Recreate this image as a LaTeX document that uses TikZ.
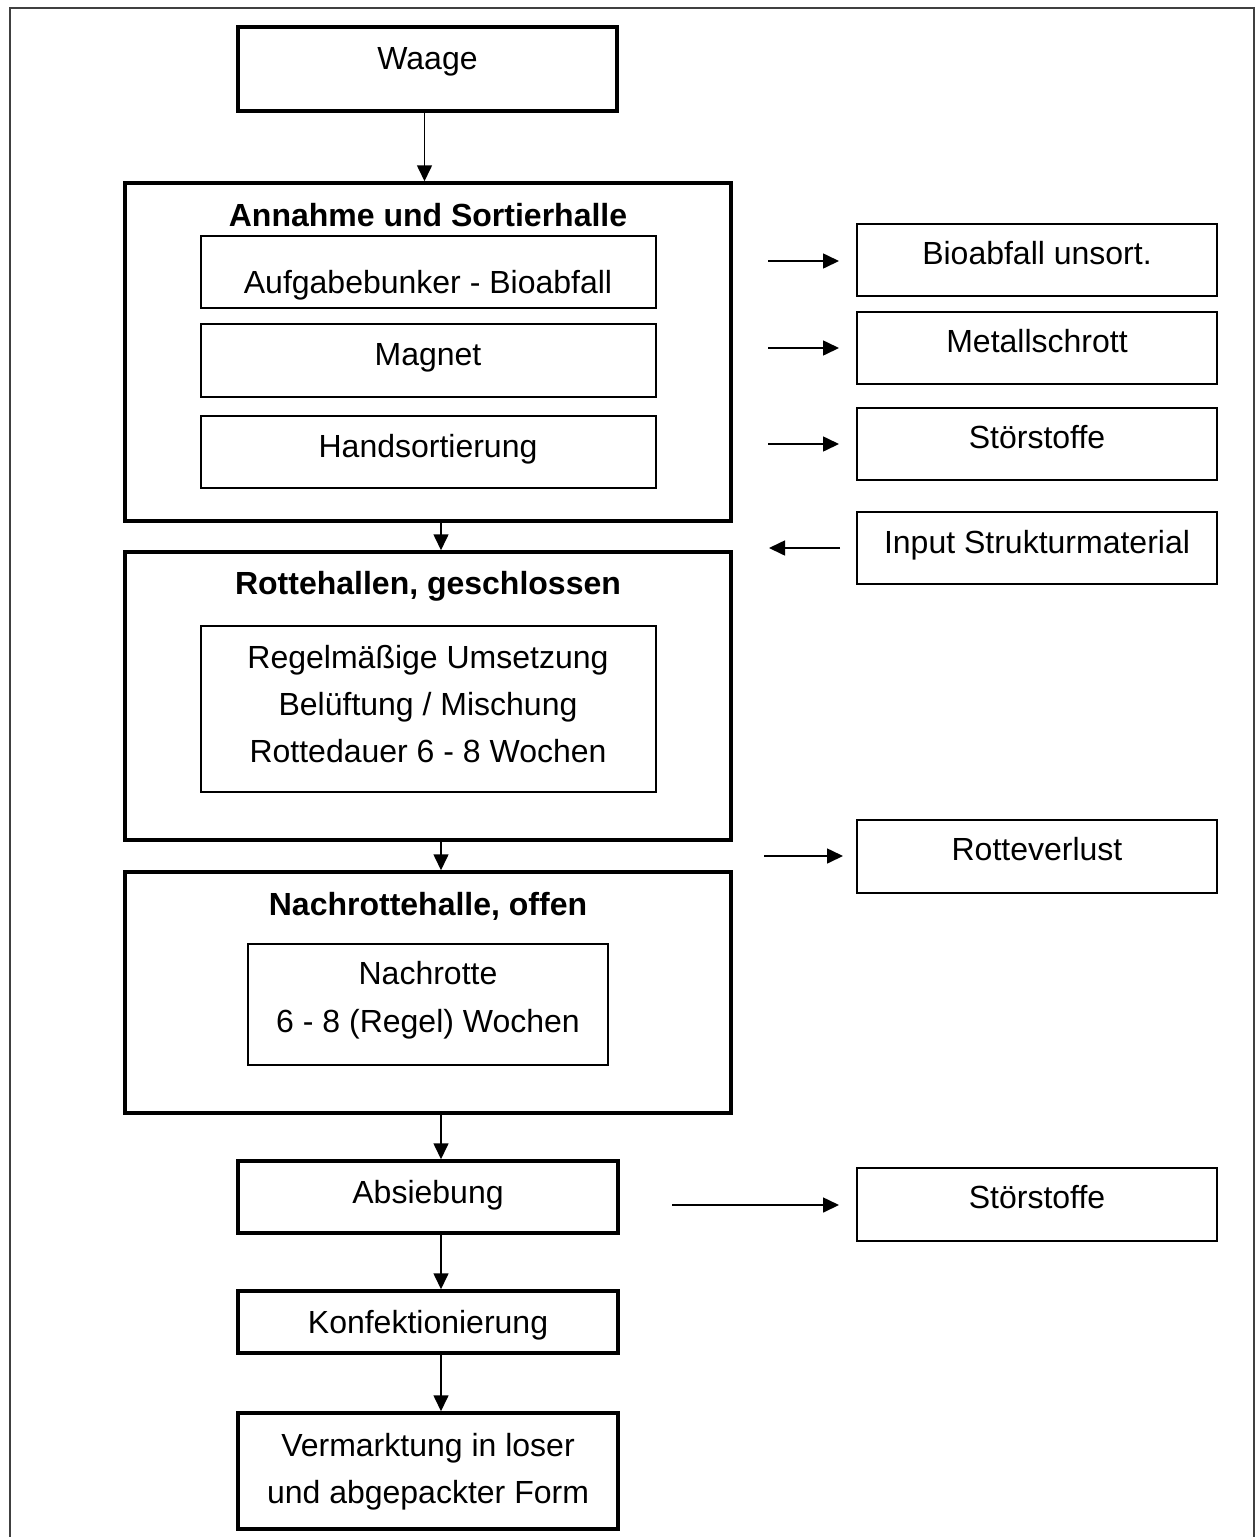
\documentclass[tikz,border=0pt]{standalone}
\usepackage{fontspec}
\setmainfont{Liberation Sans}
\usetikzlibrary{fit,arrows.meta}
\begin{document}
\begin{tikzpicture}[x=0.5pt,y=-0.5pt,
  thickbox/.style={draw,line width=1.75pt,inner sep=0pt},
  thinbox/.style={draw,line width=1pt,inner sep=0pt},
  txt/.style={anchor=base,inner sep=0pt,font=\fontsize{16}{19}\selectfont},
  ttl/.style={anchor=base,inner sep=0pt,font=\fontsize{16}{19}\selectfont\bfseries},
  arr/.style={line width=0.8pt,-{Triangle[length=8pt,width=7.5pt]}},
  framepath/.style={draw=black!75,line width=0.6pt}]
\useasboundingbox (0,0) rectangle (1258,1537);
\draw[framepath] (10,1537) -- (10,8) -- (1254,8) -- (1254,1537);

% main column
\node[thickbox,fit={(238,27)(617,111)}] (waage) {};
\node[txt] (waaget) at (427.5,69) {Waage};

\node[thickbox,fit={(125,183)(731,521)}] (annahme) {};
\node[ttl] (annahmet) at (428,226) {Annahme und Sortierhalle};
\node[thinbox,fit={(201,236)(656,308)}] (aufgabe) {};
\node[txt] (aufgabet) at (428,293) {Aufgabebunker - Bioabfall};
\node[thinbox,fit={(201,324)(656,397)}] (magnet) {};
\node[txt] (magnett) at (428,365) {Magnet};
\node[thinbox,fit={(201,416)(656,488)}] (hand) {};
\node[txt] (handt) at (428,457) {Handsortierung};

\node[thickbox,fit={(125,552)(731,840)}] (rotte) {};
\node[ttl] (rottet) at (428,594) {Rottehallen, geschlossen};
\node[thinbox,fit={(201,626)(656,792)}] (rotteinner) {};
\node[txt] (r1) at (428,668) {Regelmäßige Umsetzung};
\node[txt] (r2) at (428,715) {Belüftung / Mischung};
\node[txt] (r3) at (428,762) {Rottedauer 6 - 8 Wochen};

\node[thickbox,fit={(125,872)(731,1113)}] (nach) {};
\node[ttl] (nacht) at (428,915) {Nachrottehalle, offen};
\node[thinbox,fit={(248,944)(608,1065)}] (nachinner) {};
\node[txt] (n1) at (428,984) {Nachrotte};
\node[txt] (n2) at (428,1032) {6 - 8 (Regel) Wochen};

\node[thickbox,fit={(238,1161)(618,1233)}] (absieb) {};
\node[txt] (absiebt) at (428,1203) {Absiebung};
\node[thickbox,fit={(238,1291)(618,1353)}] (konf) {};
\node[txt] (konft) at (428,1333) {Konfektionierung};
\node[thickbox,fit={(238,1413)(618,1529)}] (verm) {};
\node[txt] (v1) at (428,1456) {Vermarktung in loser};
\node[txt] (v2) at (428,1503) {und abgepackter Form};

% right column
\node[thinbox,fit={(857,224)(1217,296)}] (bio) {};
\node[txt] (biot) at (1037,264) {Bioabfall unsort.};
\node[thinbox,fit={(857,312)(1217,384)}] (metall) {};
\node[txt] (metallt) at (1037,352) {Metallschrott};
\node[thinbox,fit={(857,408)(1217,480)}] (stoer) {};
\node[txt] (stoert) at (1037,448) {Störstoffe};
\node[thinbox,fit={(857,512)(1217,584)}] (input) {};
\node[txt] (inputt) at (1037,553) {Input Strukturmaterial};
\node[thinbox,fit={(857,820)(1217,893)}] (verlust) {};
\node[txt] (verlustt) at (1037,860) {Rotteverlust};
\node[thinbox,fit={(857,1168)(1217,1241)}] (stoerb) {};
\node[txt] (stoerbt) at (1037,1208) {Störstoffe};

% vertical connectors
\draw[arr] ([xshift=-1.5pt]waage.south) -- ([xshift=-1.5pt]waage.south |- annahme.north);
\draw[arr] ([xshift=6.5pt]annahme.south) -- ([xshift=6.5pt]rotte.north);
\draw[arr] ([xshift=6.5pt]rotte.south) -- ([xshift=6.5pt]nach.north);
\draw[arr] ([xshift=6.5pt]nach.south) -- ([xshift=6.5pt]absieb.north);
\draw[arr] ([xshift=6.5pt]absieb.south) -- ([xshift=6.5pt]konf.north);
\draw[arr] ([xshift=6.5pt]konf.south) -- ([xshift=6.5pt]verm.north);

% side arrows
\coordinate (s1) at (768,261);
\coordinate (s2) at (768,348);
\coordinate (s3) at (768,444);
\coordinate (s4) at (769,548);
\coordinate (s5) at (764,856);
\coordinate (s6) at (672,1205);
\draw[arr,shorten >=8.5pt] (s1) -- (s1 -| bio.west);
\draw[arr,shorten >=8.5pt] (s2) -- (s2 -| metall.west);
\draw[arr,shorten >=8.5pt] (s3) -- (s3 -| stoer.west);
\draw[arr,shorten <=8pt] (s4 -| input.west) -- (s4);
\draw[arr,shorten >=6.5pt] (s5) -- (s5 -| verlust.west);
\draw[arr,shorten >=8.5pt] (s6) -- (s6 -| stoerb.west);
\end{tikzpicture}
\end{document}
